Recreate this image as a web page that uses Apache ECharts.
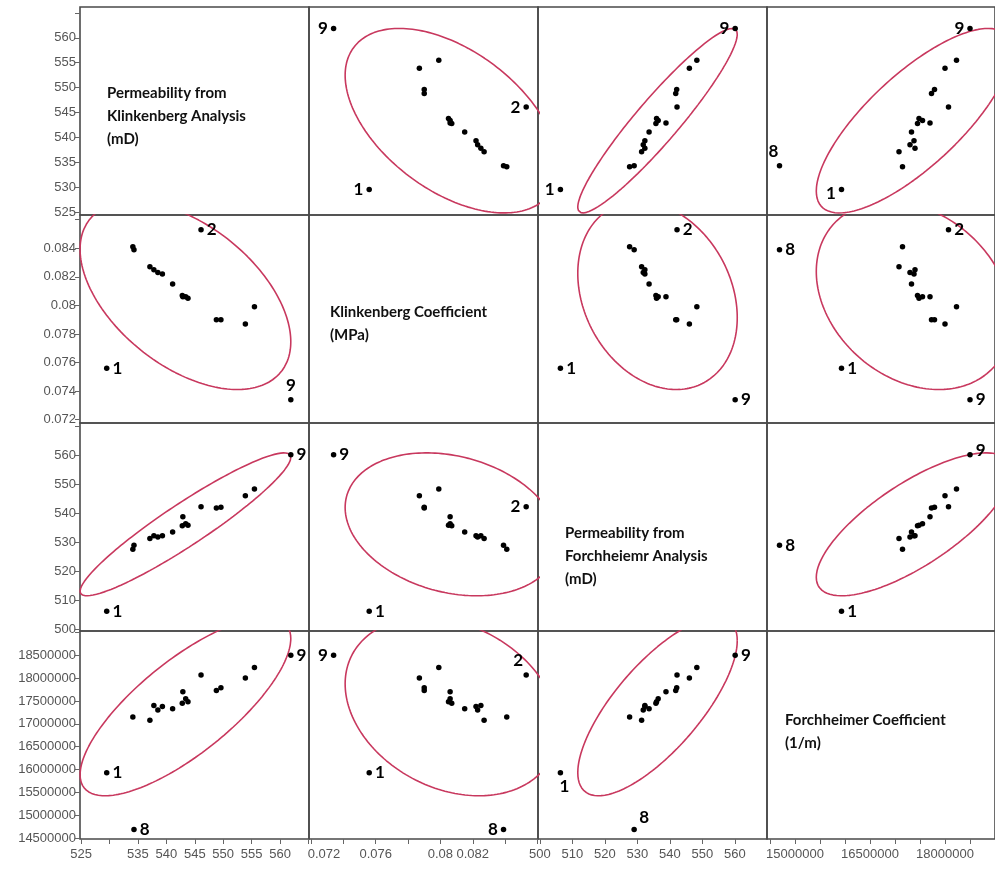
<!DOCTYPE html>
<html><head><meta charset="utf-8">
<script src="https://cdn.jsdelivr.net/npm/echarts@6/dist/echarts.min.js"></script>
<style>html,body{margin:0;padding:0;background:#fff}#c{width:995px;height:869px}</style>
</head><body><div id="c"></div>
<script>
// ---- data (one entry per sample) ----
const sampleLabels = ['1','8','','','','','','','','','','','2','','','','','9'];
const kKlink   = [529.5,534.3,534.1,537.1,537.8,538.5,539.3,541.1,542.8,542.9,543.4,543.8,546.1,548.8,549.6,553.9,555.5,561.9];
const bKlink   = [0.0756,0.0839,0.0841,0.0827,0.0825,0.0823,0.0822,0.0815,0.0807,0.0806,0.0806,0.0805,0.0853,0.0790,0.0790,0.0787,0.0799,0.0734];
const kForch   = [506.3,529.0,527.6,531.3,532.3,531.8,532.3,533.6,535.7,538.8,536.4,535.9,542.2,541.8,542.1,546.0,548.3,560.1];
const betaForch= [15930000,14690000,17150000,17080000,17400000,17300000,17380000,17330000,17450000,17700000,17550000,17480000,18070000,17730000,17790000,18000000,18230000,18500000];

const varNames = [
  'Permeability from\nKlinkenberg Analysis\n(mD)',
  'Klinkenberg Coefficient\n(MPa)',
  'Permeability from\nForchheiemr Analysis\n(mD)',
  'Forchheimer Coefficient\n(1/m)'
];
// tick marks and tick labels
const tickValues = [
  [525,530,535,540,545,550,555,560,565],
  [0.072,0.074,0.076,0.078,0.08,0.082,0.084,0.086],
  [500,510,520,530,540,550,560,570],
  [14500000,15000000,15500000,16000000,16500000,17000000,17500000,18000000,18500000,19000000]
];
const xLabelValues = [
  [525,535,540,545,550,555,560],
  [0.072,0.076,0.08,0.082],
  [500,510,520,530,540,550,560],
  [15000000,16500000,18000000]
];
const yLabelValues = [
  [525,530,535,540,545,550,555,560],
  [0.072,0.074,0.076,0.078,0.08,0.082,0.084],
  [500,510,520,530,540,550,560],
  [14500000,15000000,15500000,16000000,16500000,17000000,17500000,18000000,18500000]
];

// ---- layout / style ----
const vars = [kKlink, bKlink, kForch, betaForch];
const xRange = [[524.8,565.1],[0.07188,0.08603],[499.4,569.9],[14440000,19000000]];
const yRange = [[524.4,566.2],[0.07177,0.08633],[499.55,571.0],[14480000,19030000]];
const L0 = 80, T0 = 7, W = 229, H = 208;
const ELLIPSE_K = 2.25;
const ellipseColor = '#c8385e';
const tickFont = {fontFamily:'Liberation Sans', fontSize:13, color:'#555'};
const labelPos = {
 '01': {17:['left'],12:['left'],0:['left']},
 '02': {17:['left'],0:['left']},
 '03': {17:['left'],1:['top',-6,0],0:['left',0,4]},
 '10': {12:['right'],0:['right'],17:['top']},
 '12': {12:['right'],0:['right'],17:['right']},
 '13': {1:['right'],12:['right'],0:['right'],17:['right']},
 '20': {0:['right'],17:['right']},
 '21': {17:['right'],12:['left'],0:['right']},
 '23': {1:['right'],0:['right'],17:['right',0,-4]},
 '30': {0:['right'],1:['right'],17:['right']},
 '31': {17:['left'],12:['top',-8,0],0:['right'],1:['left']},
 '32': {0:['bottom',4,0],17:['right'],1:['top',10,2]}
};

function mean(a){return a.reduce((s,v)=>s+v,0)/a.length;}
function ellipse(xs, ys){
  const mx=mean(xs), my=mean(ys), n=xs.length;
  let sxx=0,syy=0,sxy=0;
  for(let i=0;i<n;i++){const dx=xs[i]-mx,dy=ys[i]-my;sxx+=dx*dx;syy+=dy*dy;sxy+=dx*dy;}
  sxx/=(n-1);syy/=(n-1);sxy/=(n-1);
  const sx=Math.sqrt(sxx), sy=Math.sqrt(syy), rho=sxy/(sx*sy);
  const pts=[];
  for(let i=0;i<=200;i++){
    const t=2*Math.PI*i/200;
    pts.push([mx+ELLIPSE_K*sx*Math.cos(t), my+ELLIPSE_K*sy*(rho*Math.cos(t)+Math.sqrt(1-rho*rho)*Math.sin(t))]);
  }
  return pts;
}

const grid=[], xAxis=[], yAxis=[], series=[], graphic=[];
for(let r=0;r<4;r++){
  for(let c=0;c<4;c++){
    const gi=r*4+c;
    grid.push({left:L0+W*c, top:T0+H*r, width:W, height:H, show:true,
      borderColor:'#4a4a4a', borderWidth:1.6, backgroundColor:'rgba(0,0,0,0)', containLabel:false});
    const showX = (r===3), showY = (c===0);
    xAxis.push({type:'value', gridIndex:gi, min:xRange[c][0], max:xRange[c][1], position:'bottom',
      axisLine:{show:false}, splitLine:{show:false},
      axisTick:{show:showX, customValues:tickValues[c], length:5, lineStyle:{color:'#666'}},
      axisLabel:{show:showX, customValues:xLabelValues[c], hideOverlap:false, margin:9, ...tickFont,
        formatter:v=>(c===1 && v===0.072) ? '{s|'+v+'}' : String(v),
        rich:{s:{...tickFont, padding:[0,0,0,26]}}}});
    yAxis.push({type:'value', gridIndex:gi, min:yRange[r][0], max:yRange[r][1],
      axisLine:{show:false}, splitLine:{show:false},
      axisTick:{show:showY, customValues:tickValues[r], length:5, lineStyle:{color:'#666'}},
      axisLabel:{show:showY, customValues:yLabelValues[r], formatter:v=>String(v), margin:4, hideOverlap:false, ...tickFont}});
    if(r===c) continue;
    const xs=vars[c], ys=vars[r];
    series.push({type:'line', xAxisIndex:gi, yAxisIndex:gi, data:ellipse(xs,ys), showSymbol:false,
      clip:true, silent:true, smooth:false, lineStyle:{color:ellipseColor, width:1.6}, z:1});
    const pos = labelPos[''+r+c]||{};
    const data = xs.map((x,i)=>{
      const item={value:[x, ys[i]]};
      if(pos[i] && sampleLabels[i]){
        const p=pos[i];
        item.label={show:true, formatter:sampleLabels[i], position:p[0], offset:[p[1]||0,p[2]||0], distance:3,
          fontFamily:'Lato', fontWeight:'bold', fontSize:17, color:'#000', opacity:1, textBorderWidth:0};
      }
      return item;
    });
    series.push({type:'scatter', xAxisIndex:gi, yAxisIndex:gi, data, symbolSize:5.5,
      itemStyle:{color:'#000', opacity:1}, label:{show:false}, z:3, clip:false});
  }
}
const diagText=[[107,82],[330,301],[565,522],[785,709]];
for(let i=0;i<4;i++){
  graphic.push({type:'text', left:diagText[i][0], top:diagText[i][1], z:10,
    style:{text:varNames[i], font:'bold 15px Lato', lineHeight:23, fill:'#111'}});
}
const chart=echarts.init(document.getElementById('c'));
chart.setOption({animation:false, backgroundColor:'#fff', grid, xAxis, yAxis, series, graphic});
</script>
</body></html>
